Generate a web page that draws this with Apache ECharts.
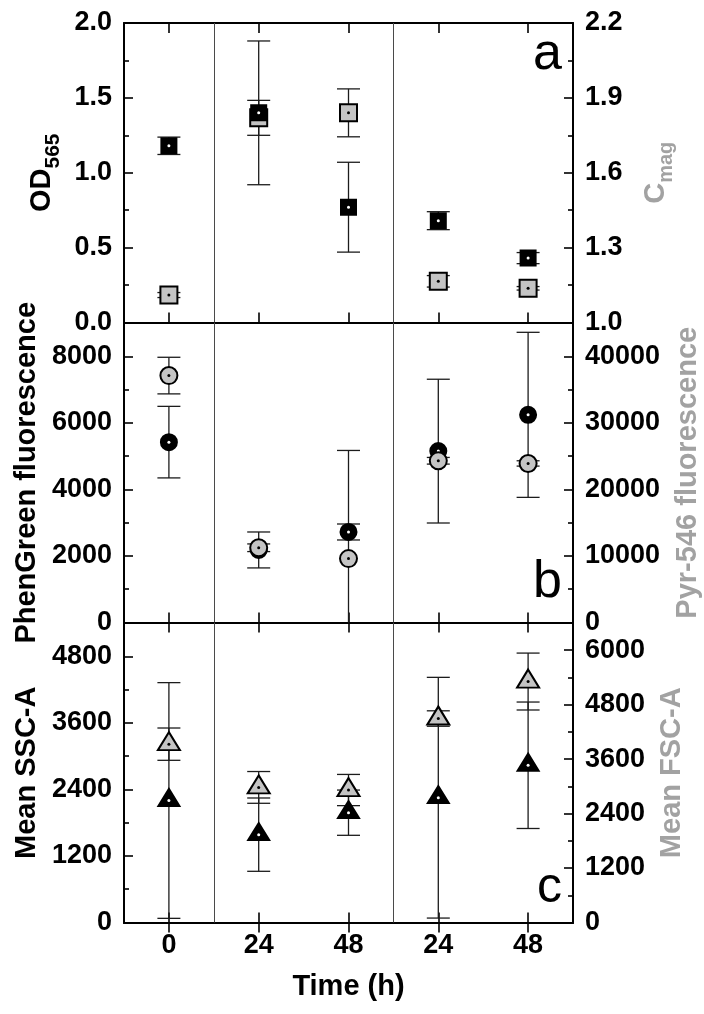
<!DOCTYPE html>
<html>
<head>
<meta charset="utf-8">
<script src="https://cdn.jsdelivr.net/npm/echarts@6/dist/echarts.min.js"></script>
<style>
  html, body { margin: 0; padding: 0; background: #ffffff; }
  #chart { width: 704px; height: 1014px; }
</style>
</head>
<body>
<div id="chart"></div>
<script>
// Sampling times (h) for the two culture series
const timeLabels = ['0', '24', '48', '24', '48'];
// separators are drawn after these category positions
const separatorAfter = [0, 2];

// Panel a: optical density and magnetic response
const od565 = [1.18, 1.40, 0.77, 0.68, 0.43];
const od565Err = [0.058, 0.48, 0.30, 0.06, 0.037];
const cmag = [1.11, 1.82, 1.84, 1.165, 1.137];
const cmagErr = [0.01, 0.07, 0.096, 0.023, 0.007];

// Panel b: fluorescence signals
const phenGreen = [5420, 2180, 2720, 5150, 6240];
const phenGreenErr = [1075, 540, 240, 2160, 2480];
const pyr546 = [37100, 11230, 9600, 24300, 23900];
const pyr546Err = [2750, 575, 16250, 500, 400];

// Panel c: flow cytometry scatter
const sscA = [2200, 1584, 1980, 2250, 2835];
const sscAErr = [2125, 661, 408, 2170, 1140];
const fscA = [3930, 2977, 2919, 4495, 5310];
const fscAErr = [356, 350, 344, 170, 627];

const FONT = '"Liberation Sans", Arial, sans-serif';
const GRAY_TEXT = '#a2a2a2';
const GRAY_FILL = '#c4c4c4';
const INK = '#000000';

const chart = echarts.init(document.getElementById('chart'), null, { renderer: 'canvas' });

const gridTops = [23, 323, 623];
const grids = gridTops.map(top => ({
  left: 124, right: 131, top: top, height: 299.5,
  containLabel: false, outerBoundsMode: 'none'
}));

// category axes: a bottom and a mirrored top axis per panel
const xAxes = [];
gridTops.forEach((_, g) => {
  xAxes.push({
    type: 'category', gridIndex: g, position: 'bottom', data: timeLabels, boundaryGap: true,
    axisLine: { lineStyle: { color: INK, width: 2 } },
    axisTick: { show: true, inside: true, alignWithLabel: true, length: 10, lineStyle: { color: INK, width: 1.6 } },
    axisLabel: { show: g === 2, color: INK, fontFamily: FONT, fontWeight: 'bold', fontSize: 27, margin: 10 },
    splitLine: { show: false },
    name: g === 2 ? 'Time (h)' : '',
    nameLocation: 'middle', nameGap: 50,
    nameTextStyle: { color: INK, fontFamily: FONT, fontWeight: 'bold', fontSize: 29 }
  });
  xAxes.push({
    type: 'category', gridIndex: g, position: 'top', data: timeLabels, boundaryGap: true,
    axisLine: { lineStyle: { color: INK, width: 2 } },
    axisTick: { show: true, inside: true, alignWithLabel: true, length: 10, lineStyle: { color: INK, width: 1.6 } },
    axisLabel: { show: false },
    splitLine: { show: false }
  });
});

function valueAxis(g, pos, min, max, interval, decimals, showMax, name, nameGap, nameColor, rich) {
  return {
    type: 'value', gridIndex: g, position: pos, min: min, max: max, interval: interval,
    axisLine: { show: true, lineStyle: { color: INK, width: 2 } },
    axisTick: { show: true, inside: true, length: 9, lineStyle: { color: INK, width: 1.6 } },
    minorTick: { show: true, splitNumber: 2, length: 5, lineStyle: { color: INK, width: 1.6 } },
    splitLine: { show: false },
    axisLabel: {
      color: INK, fontFamily: FONT, fontWeight: 'bold', fontSize: 27, margin: 12,
      showMaxLabel: showMax, showMinLabel: true,
      formatter: v => decimals ? v.toFixed(decimals) : String(Math.round(v))
    },
    name: name, nameLocation: 'middle', nameRotate: 90, nameGap: nameGap,
    nameTextStyle: Object.assign({ color: nameColor, fontFamily: FONT, fontWeight: 'bold', fontSize: 29 },
      rich ? { rich: rich } : {})
  };
}

const subRich = (color, subSize, drop) => ({
  m: { color: color, fontFamily: FONT, fontWeight: 'bold', fontSize: 29, lineHeight: 29, verticalAlign: 'top' },
  s: { color: color, fontFamily: FONT, fontWeight: 'bold', fontSize: subSize, lineHeight: subSize, verticalAlign: 'top', padding: [drop, 0, 0, 0] }
});

const yAxes = [
  valueAxis(0, 'left', 0, 2, 0.5, 1, true, '{m|OD}{s|565}', 48, INK, subRich(INK, 21, 15)),
  valueAxis(0, 'right', 1, 2.2, 0.3, 1, true, '{m|C}{s|mag}', 68, GRAY_TEXT, subRich(GRAY_TEXT, 20, 15)),
  valueAxis(1, 'left', 0, 9000, 2000, 0, false, 'PhenGreen fluorescence', 80, INK, null),
  valueAxis(1, 'right', 0, 45000, 10000, 0, false, 'Pyr-546 fluorescence', 100, GRAY_TEXT, null),
  valueAxis(2, 'left', 0, 5400, 1200, 0, false, 'Mean SSC-A', 80, INK, null),
  valueAxis(2, 'right', 0, 6600, 1200, 0, false, 'Mean FSC-A', 84, GRAY_TEXT, null)
];

// thin vertical separators between the culture groups, placed on category boundaries
function separators(xIdx, yIdx) {
  return {
    type: 'custom', xAxisIndex: xIdx, yAxisIndex: yIdx, z: 1, silent: true,
    encode: { x: 0 },
    data: separatorAfter.map(i => [i]),
    renderItem(params, api) {
      const cs = params.coordSys;
      const c = api.coord([api.value(0), 0]);
      const band = api.size([1, 0])[0];
      const x = Math.round(c[0] + band / 2) + 0.5;
      return {
        type: 'line',
        shape: { x1: x, y1: cs.y, x2: x, y2: cs.y + cs.height },
        style: { stroke: '#4a4a4a', lineWidth: 1 }
      };
    }
  };
}

// vertical error bars with caps, clipped to the axis range
function errorBars(xIdx, yIdx, values, errs, range) {
  return {
    type: 'custom', xAxisIndex: xIdx, yAxisIndex: yIdx, z: 2, silent: true,
    encode: { x: 0, y: 1 },
    data: values.map((v, i) => [i, v, errs[i]]),
    renderItem(params, api) {
      const i = api.value(0), v = api.value(1), e = api.value(2);
      const hiV = Math.min(v + e, range[1]);
      const loV = Math.max(v - e, range[0]);
      const pHi = api.coord([i, hiV]);
      const pLo = api.coord([i, loV]);
      const half = 11.5;
      const style = { stroke: '#1c1c1c', lineWidth: 1.3 };
      const kids = [{ type: 'line', shape: { x1: pHi[0], y1: pHi[1], x2: pLo[0], y2: pLo[1] }, style: style }];
      if (v + e <= range[1]) kids.push({ type: 'line', shape: { x1: pHi[0] - half, y1: pHi[1], x2: pHi[0] + half, y2: pHi[1] }, style: style });
      if (v - e >= range[0]) kids.push({ type: 'line', shape: { x1: pLo[0] - half, y1: pLo[1], x2: pLo[0] + half, y2: pLo[1] }, style: style });
      return { type: 'group', children: kids };
    }
  };
}

function markers(xIdx, yIdx, values, symbol, size, fill, z, offset) {
  return {
    type: 'scatter', xAxisIndex: xIdx, yAxisIndex: yIdx, z: z, silent: true,
    data: values.map((v, i) => [i, v]),
    symbol: symbol, symbolSize: size, symbolOffset: offset || [0, 0],
    itemStyle: { color: fill, borderColor: INK, borderWidth: 2, opacity: 1 },
    emphasis: { disabled: true }
  };
}

function centerDots(xIdx, yIdx, values, color, z) {
  return {
    type: 'scatter', xAxisIndex: xIdx, yAxisIndex: yIdx, z: z, silent: true,
    data: values.map((v, i) => [i, v]),
    symbol: 'circle', symbolSize: 3,
    itemStyle: { color: color, opacity: 1 },
    emphasis: { disabled: true }
  };
}

const triOffset = [0, -3];

const series = [
  separators(0, 0), separators(2, 2), separators(4, 4),
  // panel a
  errorBars(0, 0, od565, od565Err, [0, 2]),
  errorBars(0, 1, cmag, cmagErr, [1, 2.2]),
  markers(0, 1, cmag, 'rect', 17, GRAY_FILL, 3),
  centerDots(0, 1, cmag, INK, 4),
  markers(0, 0, od565, 'rect', 15, INK, 5),
  centerDots(0, 0, od565, '#ffffff', 6),
  // panel b
  errorBars(2, 2, phenGreen, phenGreenErr, [0, 9000]),
  errorBars(2, 3, pyr546, pyr546Err, [0, 45000]),
  markers(2, 2, phenGreen, 'circle', 16, INK, 3),
  centerDots(2, 2, phenGreen, '#ffffff', 4),
  markers(2, 3, pyr546, 'circle', 17, GRAY_FILL, 5),
  centerDots(2, 3, pyr546, INK, 6),
  // panel c
  errorBars(4, 4, sscA, sscAErr, [0, 5400]),
  errorBars(4, 5, fscA, fscAErr, [0, 6600]),
  markers(4, 4, sscA, 'triangle', [21, 17], INK, 3, triOffset),
  centerDots(4, 4, sscA, '#ffffff', 4),
  markers(4, 5, fscA, 'triangle', [22, 18], GRAY_FILL, 5, triOffset),
  centerDots(4, 5, fscA, INK, 6)
];

const panelLetter = (text, y, size) => ({
  type: 'text', x: 562, y: y, silent: true,
  style: { text: text, fill: INK, font: 'normal ' + size + 'px ' + FONT, align: 'right', verticalAlign: 'middle' }
});

chart.setOption({
  animation: false,
  backgroundColor: '#ffffff',
  grid: grids,
  xAxis: xAxes,
  yAxis: yAxes,
  series: series,
  graphic: [
    panelLetter('a', 55, 52),
    panelLetter('b', 583, 52),
    panelLetter('c', 888, 50)
  ]
});
</script>
</body>
</html>
